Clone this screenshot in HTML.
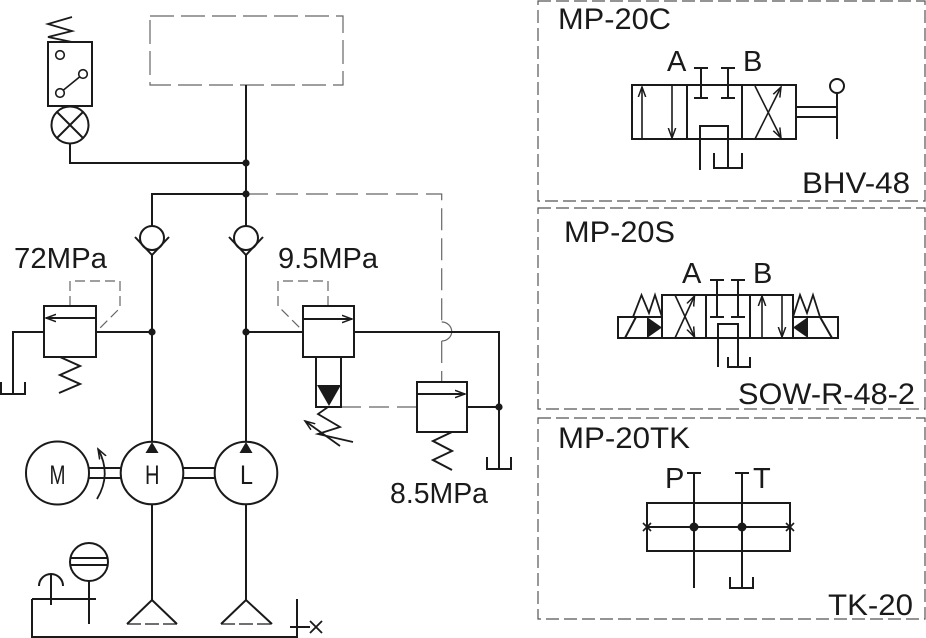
<!DOCTYPE html>
<html>
<head>
<meta charset="utf-8">
<style>
html,body{margin:0;padding:0;background:#fff;}
svg{display:block;}
text{font-family:"Liberation Sans",Arial,sans-serif;fill:#1a1a1a;}
</style>
</head>
<body>
<svg width="926" height="638" viewBox="0 0 926 638" xmlns="http://www.w3.org/2000/svg">
<defs>
<marker id="ah" markerWidth="12" markerHeight="10" refX="10" refY="5" orient="auto" markerUnits="userSpaceOnUse">
<path d="M0,1.3 L10,5 L0,8.7" fill="none" stroke="#1a1a1a" stroke-width="1.5"/>
</marker>
</defs>
<rect width="926" height="638" fill="#fff"/>

<!-- dashed gray elements -->
<g fill="none" stroke="#666" stroke-width="1.2">
<rect x="150" y="16" width="193" height="69" stroke-dasharray="24 7"/>
<path d="M246,194 H441.7 V322" stroke-dasharray="22 8"/>
<path d="M441.7,322 A10,9.5 0 0 1 441.7,341"/>
<path d="M441.7,341 V382" stroke-dasharray="22 8"/>
<path d="M341,407 H417" stroke-dasharray="20 8"/>
<path d="M70,306 V281 H120 V308 L97,331" stroke-dasharray="10 5"/>
<path d="M328,306 V281 H278 V306 L302,330" stroke-dasharray="10 5"/>
<!-- right panels -->
<rect x="538" y="1" width="387" height="200" stroke="#555" stroke-dasharray="13 5"/>
<rect x="538" y="208" width="387" height="201" stroke="#555" stroke-dasharray="13 5"/>
<rect x="538" y="418" width="387" height="201" stroke="#555" stroke-dasharray="13 5"/>
</g>

<g fill="none" stroke="#1a1a1a" stroke-width="2">
<!-- switch + lamp -->
<rect x="48" y="42" width="44" height="64"/>
<polyline points="72,17 48,24 72,31 48,37 72,42" stroke-width="1.8"/>
<circle cx="60" cy="55" r="4.3" stroke-width="1.6"/>
<circle cx="60" cy="93" r="4.3" stroke-width="1.6"/>
<circle cx="83" cy="74" r="4.3" stroke-width="1.6"/>
<line x1="63.5" y1="90" x2="79.5" y2="77" stroke-width="1.6"/>
<circle cx="70" cy="125" r="18.5"/>
<line x1="57" y1="112" x2="83" y2="138"/>
<line x1="83" y1="112" x2="57" y2="138"/>
<path d="M70,144 V163 H246"/>
<path d="M246,85 V226"/>
<path d="M152,226 V194 H246"/>

<!-- check valves -->
<circle cx="152" cy="238" r="12"/>
<polyline points="135,237 152,255 169,237"/>
<circle cx="246" cy="238" r="12"/>
<polyline points="229,237 246,255 263,237"/>
<path d="M152,255 V442"/>
<path d="M246,255 V442"/>

<!-- 72MPa relief valve -->
<rect x="44" y="306" width="52" height="51"/>
<line x1="95" y1="318" x2="46" y2="318" marker-end="url(#ah)"/>
<path d="M96,332 H152"/>
<path d="M44,332 H13 V394"/>
<path d="M1,382 V394 H25 V382"/>
<polyline points="60,357 80,366 60,375 80,384 59,393"/>

<!-- 9.5MPa valve -->
<rect x="303" y="306" width="51" height="51"/>
<line x1="304" y1="319" x2="352" y2="319" marker-end="url(#ah)"/>
<path d="M246,332 H303"/>
<path d="M354,332 H499 V469"/>
<rect x="316" y="357" width="25" height="50"/>
<polyline points="328,407 318,414 340,427 318,434 353,442" stroke-width="1.8"/>
<line x1="340" y1="446" x2="305" y2="421" stroke-width="1.8" marker-end="url(#ah)"/>

<!-- 8.5MPa valve -->
<rect x="417" y="382" width="50" height="50"/>
<line x1="418" y1="394" x2="465" y2="394" marker-end="url(#ah)"/>
<path d="M467,407 H499"/>
<polyline points="452,432 433,441 452,451 433,460 452,470"/>
<path d="M487,457 V469 H511 V457"/>

<!-- pumps -->
<circle cx="57.5" cy="473" r="31.5"/>
<circle cx="152" cy="473" r="31.3"/>
<circle cx="246" cy="473" r="31.3"/>
<path d="M89,468 H121 M89,478 H121 M183,468 H215 M183,478 H215"/>
<path d="M97,499 Q112,474 98,449" stroke-width="1.8" marker-end="url(#ah)"/>
<path d="M152,505 V600 M246,505 V600"/>
<polyline points="127,624 152,600 177,624"/>
<polyline points="221,624 246,600 272,624"/>

<!-- reservoir -->
<path d="M32,599 V637 H297 V599"/>
<path d="M32,599 H96"/>
<path d="M39,586 A12,12 0 0 1 63,586"/>
<path d="M51,574 V605"/>
<circle cx="89" cy="562" r="19"/>
<path d="M71,558 H107 M71,565 H107"/>
<path d="M89,581 V624"/>
<path d="M290,627 H310"/>
<path d="M310,621 L322,633 M310,633 L322,621" stroke-width="1.8"/>
</g>
<g stroke="#1a1a1a" stroke-width="1.2" fill="none">
<path d="M127,624 H177 M221,624 H272" stroke-dasharray="14 4"/>
</g>
<g fill="#1a1a1a">
<circle cx="246" cy="163" r="3.6"/>
<circle cx="246" cy="194" r="3.6"/>
<circle cx="152" cy="332" r="3.6"/>
<circle cx="246" cy="332" r="3.6"/>
<circle cx="499" cy="407" r="3.6"/>
<polygon points="317,385 341,385 329,406"/>
<polygon points="152,442 145.5,453 158.5,453"/>
<polygon points="246,442 239.5,453 252.5,453"/>
</g>

<!-- Panel 1 valve BHV-48 -->
<g fill="none" stroke="#1a1a1a" stroke-width="2">
<rect x="632" y="85" width="164" height="54"/>
<path d="M687,85 V139 M742,85 V139"/>
<line x1="642" y1="139" x2="642" y2="87" stroke-width="1.6" marker-end="url(#ah)"/>
<line x1="672" y1="86" x2="672" y2="138" stroke-width="1.6" marker-end="url(#ah)"/>
<path d="M701,68 V98 M728,68 V98 M694,68 H708 M721,68 H735 M694,98 H708 M721,98 H735"/>
<path d="M700,139 V126 H728 V139"/>
<path d="M700,139 V170 M728,139 V168 M714,153 V168 H742 V153"/>
<line x1="755" y1="139" x2="781" y2="87" stroke-width="1.6" marker-end="url(#ah)"/>
<line x1="755" y1="86" x2="781" y2="138" stroke-width="1.6" marker-end="url(#ah)"/>
<path d="M796,107 H837 M796,117 H837 M837,93 V139"/>
<circle cx="837" cy="86" r="7"/>
</g>

<!-- Panel 2 valve SOW-R-48-2 -->
<g fill="none" stroke="#1a1a1a" stroke-width="2">
<rect x="662" y="295" width="131" height="43"/>
<path d="M706,295 V338 M750,295 V338"/>
<rect x="618" y="317" width="44" height="21"/>
<rect x="793" y="317" width="45" height="21"/>
<line x1="625" y1="338" x2="636" y2="317"/>
<line x1="820" y1="317" x2="832" y2="338"/>
<polyline points="633,317 641.5,295 649,313 655,295 662,317" stroke-width="1.8"/>
<polyline points="793,317 800,295 807,313 813,295 820,317" stroke-width="1.8"/>
<line x1="675" y1="338" x2="694.5" y2="296" stroke-width="1.6" marker-end="url(#ah)"/>
<line x1="675" y1="295" x2="694.5" y2="337" stroke-width="1.6" marker-end="url(#ah)"/>
<path d="M717,280 V317 M738,280 V317 M710,280 H724 M731,280 H745 M710,317 H724 M731,317 H745"/>
<path d="M718,338 V324 H738 V338"/>
<path d="M718,338 V367 M738,338 V367 M728,357 V367 H750 V357"/>
<line x1="762" y1="338" x2="762" y2="296" stroke-width="1.6" marker-end="url(#ah)"/>
<line x1="782" y1="295" x2="782" y2="337" stroke-width="1.6" marker-end="url(#ah)"/>
</g>
<g fill="#1a1a1a">
<polygon points="647,317 662,327.5 647,338"/>
<polygon points="808,317 793,327.5 808,338"/>
</g>

<!-- Panel 3 TK-20 -->
<g fill="none" stroke="#1a1a1a" stroke-width="2">
<rect x="647" y="503" width="143" height="48"/>
<path d="M647,527 H790"/>
<path d="M643,523 L651,531 M643,531 L651,523 M786,523 L794,531 M786,531 L794,523" stroke-width="1.6"/>
<path d="M694,473 V588 M687,473 H701"/>
<path d="M742,473 V588 M735,473 H749"/>
<path d="M730,577 V588 H753 V577"/>
</g>
<g fill="#1a1a1a">
<circle cx="694" cy="527" r="4.5"/>
<circle cx="742" cy="527" r="4.5"/>
</g>

<!-- Text -->
<g font-size="29">
<text x="14" y="268" textLength="93" lengthAdjust="spacingAndGlyphs">72MPa</text>
<text x="278" y="268" textLength="100" lengthAdjust="spacingAndGlyphs">9.5MPa</text>
<text x="390" y="503" textLength="98" lengthAdjust="spacingAndGlyphs">8.5MPa</text>
<text x="558" y="29" font-size="30" textLength="113" lengthAdjust="spacingAndGlyphs">MP-20C</text>
<text x="802" y="193" font-size="30" textLength="108" lengthAdjust="spacingAndGlyphs">BHV-48</text>
<text x="667" y="71">A</text>
<text x="743" y="71">B</text>
<text x="564" y="242" font-size="30" textLength="111" lengthAdjust="spacingAndGlyphs">MP-20S</text>
<text x="738" y="404" font-size="30" textLength="177" lengthAdjust="spacingAndGlyphs">SOW-R-48-2</text>
<text x="682" y="283">A</text>
<text x="753" y="283">B</text>
<text x="558" y="448" font-size="30" textLength="132" lengthAdjust="spacingAndGlyphs">MP-20TK</text>
<text x="828" y="615" font-size="30" textLength="85" lengthAdjust="spacingAndGlyphs">TK-20</text>
<text x="665" y="488">P</text>
<text x="753" y="488">T</text>
</g>
<g font-size="27" fill="#222">
<text x="49.5" y="484" textLength="16" lengthAdjust="spacingAndGlyphs">M</text>
<text x="145" y="484" textLength="14.5" lengthAdjust="spacingAndGlyphs">H</text>
<text x="240" y="484" textLength="13" lengthAdjust="spacingAndGlyphs">L</text>
</g>
</svg>
</body>
</html>
